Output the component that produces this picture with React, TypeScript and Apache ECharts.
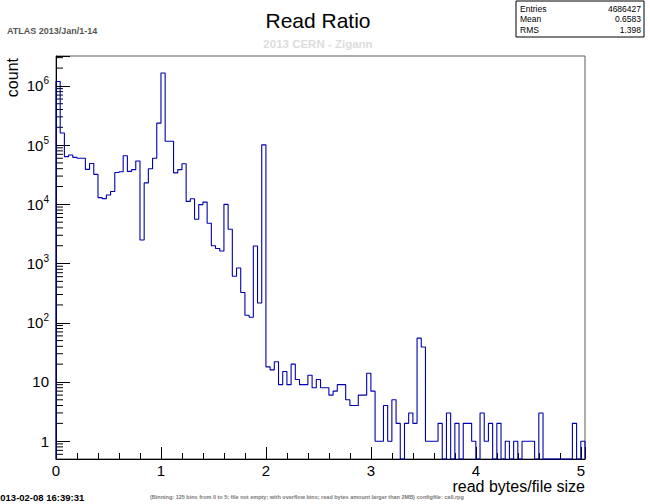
import React, { useEffect, useRef } from 'react';
import * as echarts from 'echarts';

// ---- data -------------------------------------------------------------
const BIN_WIDTH = 0.04; // 125 bins from 0 to 5, plus one overflow bin
const X_MIN = 0;
const X_MAX = 5.04;
const Y_MIN = 0.5;
const Y_MAX = 3.2e6;

const binCounts = [
  1.19e6, 1.6e5, 6.4e4, 6.8e4, 6.2e4, 6.0e4, 6.0e4, 3.9e4, 4.9e4, 3.2e4,
  1.3e4, 1.25e4, 1.44e4, 1.65e4, 3.45e4, 3.55e4, 6.6e4, 3.6e4, 3.85e4, 5.4e4,
  2500, 2.3e4, 4.0e4, 6.0e4, 2.35e5, 1.65e6, 1.16e5, 1.16e5, 3.4e4, 3.85e4,
  4.85e4, 1.12e4, 1.24e4, 5600, 9900, 1.09e4, 4800, 2000, 1800, 1630,
  1.0e4, 3800, 610, 840, 325, 134, 124, 1980, 216, 1.01e5,
  18, 16, 22, 9, 15, 9, 20, 11, 9, 9,
  13, 8, 11, 8, 8, 6, 7, 9, 9, 5,
  4, 4, 6, 6, 14, 7, 1, 1, 4, 1,
  5, 2, 0, 2, 3, 2, 55, 39, 1, 1,
  1, 2, 0, 3, 0, 2, 0, 2, 2, 1,
  0, 3, 1, 2, 0, 2, 0, 1, 0, 1,
  0, 1, 1, 1, 0, 3, 0, 0, 0, 0,
  0, 0, 0, 2, 0, 1,
];

const xTickLabels = ['0', '1', '2', '3', '4', '5'];
const yDecades = [0.1, 1, 10, 100, 1e3, 1e4, 1e5, 1e6];
const yMinorMultipliers = [2, 3, 4, 5, 6, 7, 8, 9];

const statNames = ['Entries', 'Mean', 'RMS'];
const statValues = ['4686427', '0.6583', '1.398'];

const titleText = 'Read Ratio';
const subTitleText = '2013 CERN - Zigann';
const atlasText = 'ATLAS 2013/Jan/1-14';
const xTitle = 'read bytes/file size';
const yTitle = 'count';
const dateText = '2013-02-08 16:39:31';
const noteText =
  '(Binning: 125 bins from 0 to 5; file not empty; with overflow bins; read bytes amount larger than 2MB) configfile: call.rpg';

const FONT = 'Liberation Sans, Arial, Helvetica, sans-serif';

export default function App() {
  const ref = useRef<HTMLDivElement>(null);

  useEffect(() => {
    const el = ref.current;
    if (!el) return;
    const chart = echarts.init(el, null, { renderer: 'svg' });

    // step outline of the histogram (zero bins drawn down to the frame bottom)
    const steps: number[][] = [[X_MIN, Y_MIN]];
    binCounts.forEach((c, i) => steps.push([i * BIN_WIDTH, c > 0 ? c : Y_MIN]));
    const last = binCounts[binCounts.length - 1];
    steps.push([binCounts.length * BIN_WIDTH, last > 0 ? last : Y_MIN]);
    steps.push([binCounts.length * BIN_WIDTH, Y_MIN]);

    const yMinorTicks: number[] = [];
    yDecades.forEach((d) =>
      yMinorMultipliers.forEach((m) => {
        const v = d * m;
        if (v > Y_MIN * 1.0001 && v < Y_MAX) yMinorTicks.push(v);
      })
    );

    const statsX0 = 516;
    const statsX1 = 644;
    const statsGraphics: any[] = [
      {
        type: 'rect',
        shape: { x: statsX0, y: 1, width: statsX1 - statsX0, height: 36 },
        style: { fill: '#fff', stroke: '#000', lineWidth: 1 },
      },
    ];
    statNames.forEach((n, i) => {
      const y = 9 + i * 10.3;
      statsGraphics.push({
        type: 'text',
        x: statsX0 + 4,
        y,
        style: { text: n, font: `8.5px ${FONT}`, fill: '#000', align: 'left', verticalAlign: 'middle' },
      });
      statsGraphics.push({
        type: 'text',
        x: statsX1 - 3,
        y,
        style: { text: statValues[i], font: `8.5px ${FONT}`, fill: '#000', align: 'right', verticalAlign: 'middle' },
      });
    });

    const option: any = {
      animation: false,
      backgroundColor: '#fff',
      grid: {
        left: 56,
        right: 65,
        top: 56,
        bottom: 45,
        show: true,
        borderColor: '#5a5a5a',
        borderWidth: 1,
        backgroundColor: 'transparent',
      },
      xAxis: {
        type: 'value',
        min: X_MIN,
        max: X_MAX,
        interval: 1,
        axisLine: { show: true, lineStyle: { color: '#000', width: 1 } },
        axisTick: { show: true, inside: true, length: 12, lineStyle: { color: '#000', width: 1 } },
        minorTick: { show: true, splitNumber: 5, length: 6, lineStyle: { color: '#000', width: 1 } },
        splitLine: { show: false },
        minorSplitLine: { show: false },
        axisLabel: {
          margin: 4,
          fontSize: 15,
          fontFamily: FONT,
          color: '#000',
          formatter: (v: number) => {
            const r = Math.round(v);
            return Math.abs(v - r) < 1e-6 && xTickLabels.includes(String(r)) ? String(r) : '';
          },
        },
      },
      yAxis: {
        type: 'log',
        logBase: 10,
        min: Y_MIN,
        max: Y_MAX,
        axisLine: { show: true, lineStyle: { color: '#000', width: 1 } },
        axisTick: { show: true, inside: true, length: 14, lineStyle: { color: '#000', width: 1 } },
        splitLine: { show: false },
        axisLabel: {
          margin: 7,
          fontSize: 15,
          fontFamily: FONT,
          color: '#000',
          formatter: (v: number) => {
            const l = Math.log10(v);
            const e = Math.round(l);
            if (Math.abs(l - e) > 1e-6) return '';
            if (e === 0) return '1';
            if (e === 1) return '10';
            return `10{s|${e}}`;
          },
          rich: {
            s: { fontSize: 10, fontFamily: FONT, color: '#000', padding: [0, 0, 10, 0] },
          },
        },
      },
      series: [
        {
          type: 'line',
          step: 'end',
          data: steps,
          symbol: 'none',
          clip: false,
          lineStyle: { color: '#0000b0', width: 1.1 },
          z: 4,
        },
        {
          type: 'custom',
          coordinateSystem: 'cartesian2d',
          silent: true,
          clip: false,
          data: yMinorTicks.map((v) => [X_MIN, v]),
          renderItem: (_p: any, api: any) => {
            const p = api.coord([api.value(0), api.value(1)]);
            return {
              type: 'line',
              shape: { x1: p[0], y1: p[1], x2: p[0] + 7, y2: p[1] },
              style: { stroke: '#000', lineWidth: 1 },
            };
          },
          z: 3,
        },
      ],
      graphic: [
        {
          type: 'text',
          x: 318,
          y: 20,
          style: { text: titleText, font: `21px ${FONT}`, fill: '#000', align: 'center', verticalAlign: 'middle' },
        },
        {
          type: 'text',
          x: 318,
          y: 44,
          style: { text: subTitleText, font: `bold 11.5px ${FONT}`, fill: '#dcdcdc', align: 'center', verticalAlign: 'middle' },
        },
        {
          type: 'text',
          x: 7,
          y: 31,
          style: { text: atlasText, font: `bold 9px ${FONT}`, fill: '#555', align: 'left', verticalAlign: 'middle' },
        },
        {
          type: 'text',
          x: 12,
          y: 58,
          rotation: Math.PI / 2,
          style: { text: yTitle, font: `16px ${FONT}`, fill: '#000', align: 'right', verticalAlign: 'middle' },
        },
        {
          type: 'text',
          x: 585,
          y: 486,
          style: { text: xTitle, font: `16px ${FONT}`, fill: '#000', align: 'right', verticalAlign: 'middle' },
        },
        {
          type: 'text',
          x: -5,
          y: 497,
          style: { text: dateText, font: `bold 9.5px ${FONT}`, fill: '#000', align: 'left', verticalAlign: 'middle' },
        },
        {
          type: 'text',
          x: 150,
          y: 497,
          style: { text: noteText, font: `bold 5.5px ${FONT}`, fill: '#777', align: 'left', verticalAlign: 'middle' },
        },
        ...statsGraphics,
      ],
    };

    chart.setOption(option);
    return () => chart.dispose();
  }, []);

  return <div ref={ref} style={{ position: 'absolute', left: 0, top: 0, width: 650, height: 504 }} />;
}
